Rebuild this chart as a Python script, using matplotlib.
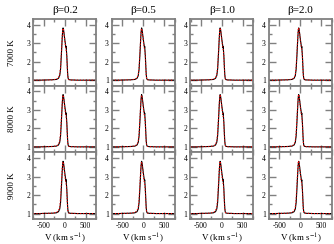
import matplotlib
matplotlib.use("Agg")
import matplotlib.pyplot as plt
from matplotlib.ticker import MultipleLocator

plt.rcParams['font.family'] = ['Liberation Serif', 'DejaVu Serif']
plt.rcParams['mathtext.fontset'] = 'stix'
plt.rcParams['axes.unicode_minus'] = False

# panel labels
betas = ["β=0.2", "β=0.5", "β=1.0", "β=2.0"]
temps = ["7000 K", "8000 K", "9000 K"]

# velocity grid (km/s)
vel = [-750, -600, -450, -300, -200, -150, -120, -100, -80, -60, -50, -40,
       -30, -20, -10, 0, 10, 20, 30, 35, 40, 50, 60, 70, 80, 90, 100, 120,
       150, 200, 300, 450, 600, 750]

# observed profile (black)
obs = [1.00, 1.00, 1.01, 1.02, 1.04, 1.10, 1.25, 1.60, 2.40, 3.30, 3.65, 3.82,
       3.75, 3.58, 3.40, 3.22, 3.05, 2.90, 2.75, 2.82, 2.62, 2.30, 1.80, 1.35,
       1.12, 1.05, 1.03, 1.02, 1.01, 1.01, 1.00, 1.00, 1.00, 1.00]

# model profiles (red dotted), one per row / column
model_7000 = [
    [1.00, 1.00, 1.01, 1.02, 1.05, 1.12, 1.30, 1.70, 2.50, 3.35, 3.68, 3.80,
     3.72, 3.55, 3.35, 3.15, 2.98, 2.82, 2.68, 2.62, 2.55, 2.25, 1.75, 1.30,
     1.10, 1.05, 1.03, 1.02, 1.01, 1.01, 1.00, 1.00, 1.00, 1.00],
    [1.00, 1.00, 1.01, 1.02, 1.05, 1.12, 1.30, 1.70, 2.50, 3.33, 3.66, 3.78,
     3.70, 3.52, 3.33, 3.14, 2.97, 2.82, 2.68, 2.62, 2.55, 2.25, 1.75, 1.30,
     1.10, 1.05, 1.03, 1.02, 1.01, 1.01, 1.00, 1.00, 1.00, 1.00],
    [1.00, 1.00, 1.01, 1.02, 1.05, 1.12, 1.30, 1.70, 2.52, 3.36, 3.70, 3.82,
     3.74, 3.56, 3.36, 3.16, 2.98, 2.83, 2.69, 2.63, 2.56, 2.26, 1.76, 1.31,
     1.10, 1.05, 1.03, 1.02, 1.01, 1.01, 1.00, 1.00, 1.00, 1.00],
    [1.00, 1.00, 1.01, 1.02, 1.05, 1.12, 1.30, 1.72, 2.55, 3.38, 3.72, 3.84,
     3.75, 3.57, 3.37, 3.17, 2.99, 2.84, 2.70, 2.64, 2.57, 2.27, 1.77, 1.32,
     1.10, 1.05, 1.03, 1.02, 1.01, 1.01, 1.00, 1.00, 1.00, 1.00],
]
model_8000 = [
    [1.00, 1.00, 1.01, 1.02, 1.05, 1.13, 1.32, 1.75, 2.55, 3.38, 3.70, 3.80,
     3.70, 3.52, 3.32, 3.12, 2.95, 2.80, 2.66, 2.60, 2.52, 2.22, 1.72, 1.28,
     1.09, 1.05, 1.03, 1.02, 1.01, 1.01, 1.00, 1.00, 1.00, 1.00],
    [1.00, 1.00, 1.01, 1.02, 1.05, 1.13, 1.32, 1.74, 2.54, 3.36, 3.68, 3.79,
     3.70, 3.52, 3.32, 3.12, 2.95, 2.80, 2.66, 2.60, 2.52, 2.22, 1.72, 1.28,
     1.09, 1.05, 1.03, 1.02, 1.01, 1.01, 1.00, 1.00, 1.00, 1.00],
    [1.00, 1.00, 1.01, 1.02, 1.05, 1.13, 1.32, 1.75, 2.56, 3.38, 3.71, 3.82,
     3.72, 3.54, 3.34, 3.14, 2.96, 2.81, 2.67, 2.61, 2.53, 2.23, 1.73, 1.29,
     1.09, 1.05, 1.03, 1.02, 1.01, 1.01, 1.00, 1.00, 1.00, 1.00],
    [1.00, 1.00, 1.01, 1.02, 1.05, 1.13, 1.33, 1.77, 2.58, 3.40, 3.73, 3.83,
     3.73, 3.55, 3.35, 3.15, 2.97, 2.82, 2.68, 2.62, 2.54, 2.24, 1.74, 1.30,
     1.09, 1.05, 1.03, 1.02, 1.01, 1.01, 1.00, 1.00, 1.00, 1.00],
]
model_9000 = [
    [1.00, 1.00, 1.01, 1.02, 1.06, 1.14, 1.35, 1.80, 2.62, 3.42, 3.72, 3.80,
     3.68, 3.48, 3.28, 3.08, 2.92, 2.78, 2.64, 2.58, 2.50, 2.20, 1.70, 1.26,
     1.09, 1.05, 1.03, 1.02, 1.01, 1.01, 1.00, 1.00, 1.00, 1.00],
    [1.00, 1.00, 1.01, 1.02, 1.06, 1.14, 1.35, 1.79, 2.60, 3.40, 3.70, 3.79,
     3.68, 3.48, 3.28, 3.08, 2.92, 2.78, 2.64, 2.58, 2.50, 2.20, 1.70, 1.26,
     1.09, 1.05, 1.03, 1.02, 1.01, 1.01, 1.00, 1.00, 1.00, 1.00],
    [1.00, 1.00, 1.01, 1.02, 1.06, 1.14, 1.35, 1.80, 2.62, 3.42, 3.73, 3.82,
     3.70, 3.50, 3.30, 3.10, 2.93, 2.79, 2.65, 2.59, 2.51, 2.21, 1.71, 1.27,
     1.09, 1.05, 1.03, 1.02, 1.01, 1.01, 1.00, 1.00, 1.00, 1.00],
    [1.00, 1.00, 1.01, 1.02, 1.06, 1.14, 1.36, 1.82, 2.65, 3.45, 3.76, 3.85,
     3.72, 3.52, 3.32, 3.12, 2.94, 2.80, 2.66, 2.60, 2.52, 2.22, 1.72, 1.28,
     1.09, 1.05, 1.03, 1.02, 1.01, 1.01, 1.00, 1.00, 1.00, 1.00],
]
models = [model_7000, model_8000, model_9000]

fig, axes = plt.subplots(3, 4, figsize=(3.34, 2.44), dpi=100, sharex=True)
fig.subplots_adjust(left=0.099, right=0.994, top=0.922, bottom=0.102,
                    wspace=0.24, hspace=0.0)

spine_col = '#808080'
for i in range(3):
    for j in range(4):
        ax = axes[i, j]
        ax.plot(vel, obs, color='black', lw=0.8)
        ax.plot(vel, models[i][j], color='red', lw=0.8, ls=':')
        ax.set_xlim(-760, 760)
        ax.set_ylim(0.7, 4.3)
        ax.xaxis.set_major_locator(MultipleLocator(500))
        ax.xaxis.set_minor_locator(MultipleLocator(250))
        ax.yaxis.set_major_locator(MultipleLocator(1))
        ax.yaxis.set_minor_locator(MultipleLocator(0.5))
        ax.tick_params(which='both', direction='in', top=True, right=True,
                       color=spine_col, width=1.0, labelsize=5.5, pad=2)
        ax.tick_params(which='major', length=5)
        ax.tick_params(which='minor', length=2.5)
        for s in ax.spines.values():
            s.set_color(spine_col)
            s.set_linewidth(1.3)
        if i == 0:
            ax.set_title(betas[j], fontsize=8, pad=4)
        if i == 2:
            ax.set_xlabel(r'V (km s$^{-1}$)', fontsize=6.5, labelpad=1)

row_y = [0.785, 0.512, 0.24]
for i in range(3):
    fig.text(0.036, row_y[i], temps[i], rotation=90, fontsize=6.5,
             ha='center', va='center')

fig.savefig("out.png", dpi=100)
